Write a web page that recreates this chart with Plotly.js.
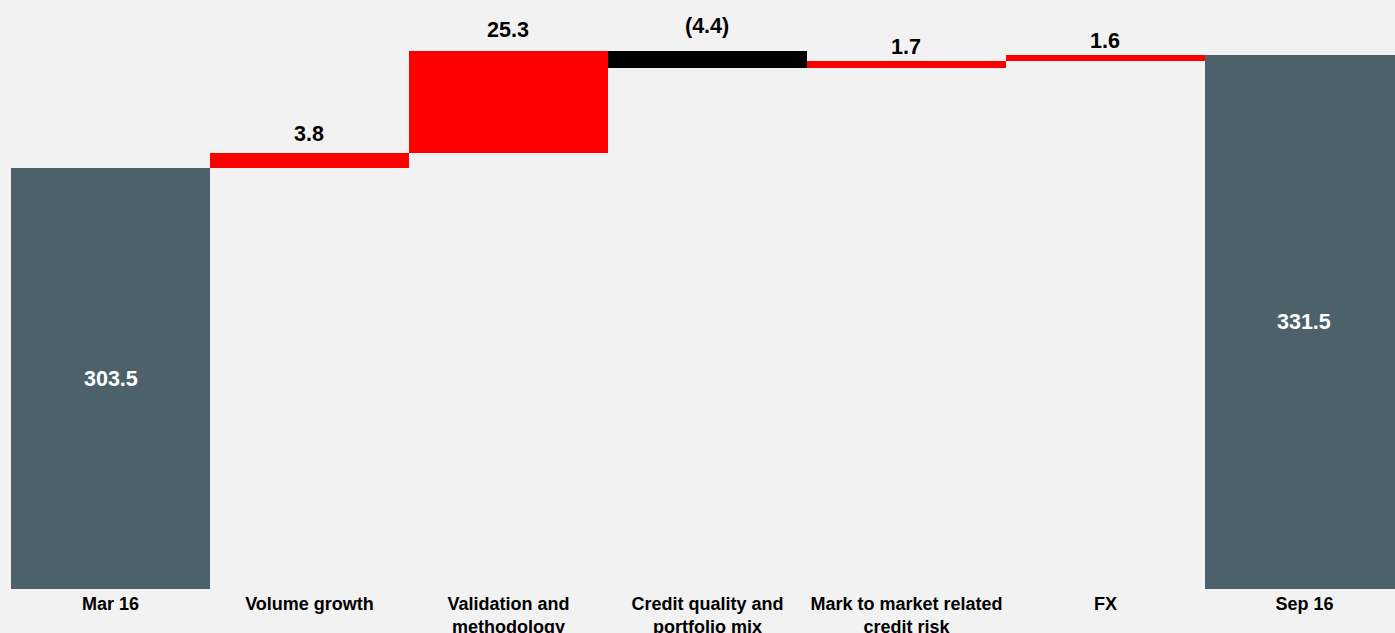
<!DOCTYPE html>
<html>
<head>
<meta charset="utf-8">
<script src="https://cdn.plot.ly/plotly-3.0.1.min.js"></script>
<style>
html,body{margin:0;padding:0;background:#f2f2f2;}
#chart{width:1395px;height:633px;}
</style>
</head>
<body>
<div id="chart"></div>
<script>
// ---- data ----
const categories = ['Mar 16', 'Volume growth', 'Validation and<br>methodology', 'Credit quality and<br>portfolio mix', 'Mark to market related<br>credit risk', 'FX', 'Sep 16'];
const values = [303.5, 3.8, 25.3, -4.4, 1.7, 1.6, 331.5];
const kinds = ['total', 'delta', 'delta', 'delta', 'delta', 'delta', 'total'];
const labels = ['303.5', '3.8', '25.3', '(4.4)', '1.7', '1.6', '331.5'];

// ---- styles ----
const colTotal = '#4d616b', colUp = '#ff0000', colDown = '#000000';
const labelShift = [0, 5, 7, 11, 0, 0, 0]; // pixel offsets above bar tops
const yMin = 199.5, yMax = 345.1;

// ---- build waterfall ----
let running = 0;
const bases = [], heights = [], colors = [], anns = [];
values.forEach((v, i) => {
  if (kinds[i] === 'total') {
    bases.push(0); heights.push(v); colors.push(colTotal);
    running = v;
    anns.push({x: i, y: (yMin + v) / 2, text: labels[i], showarrow: false,
      xanchor: 'center', yanchor: 'middle',
      font: {family: 'Liberation Sans, Arial, sans-serif', size: 21.5, color: '#ffffff', weight: 'bold'}});
  } else {
    bases.push(running); heights.push(v); colors.push(v >= 0 ? colUp : colDown);
    const top = Math.max(running, running + v);
    running += v;
    anns.push({x: i, y: top, text: labels[i], showarrow: false,
      xanchor: 'center', yanchor: 'bottom', yshift: labelShift[i],
      font: {family: 'Liberation Sans, Arial, sans-serif', size: 21.5, color: '#000000', weight: 'bold'}});
  }
});

const trace = {
  type: 'bar',
  x: categories.map((c, i) => i),
  y: heights,
  base: bases,
  width: 1,
  marker: {color: colors, line: {width: 0}},
  hoverinfo: 'none'
};

const layout = {
  width: 1395, height: 633,
  margin: {l: 11, r: 0, t: 0, b: 44, pad: 0},
  paper_bgcolor: '#f2f2f2', plot_bgcolor: '#f2f2f2',
  showlegend: false,
  bargap: 0,
  xaxis: {
    range: [-0.5, 6.455], tickvals: categories.map((c, i) => i), ticktext: categories,
    showgrid: false, zeroline: false, showline: false, ticks: '',
    ticklabelstandoff: 2,
    tickfont: {family: 'Liberation Sans, Arial, sans-serif', size: 18, color: '#000000', weight: 'bold'},
    fixedrange: true
  },
  yaxis: {
    range: [yMin, yMax], visible: false, showgrid: false, zeroline: false, fixedrange: true
  },
  annotations: anns
};

Plotly.newPlot('chart', [trace], layout, {displayModeBar: false, staticPlot: true});
</script>
</body>
</html>
